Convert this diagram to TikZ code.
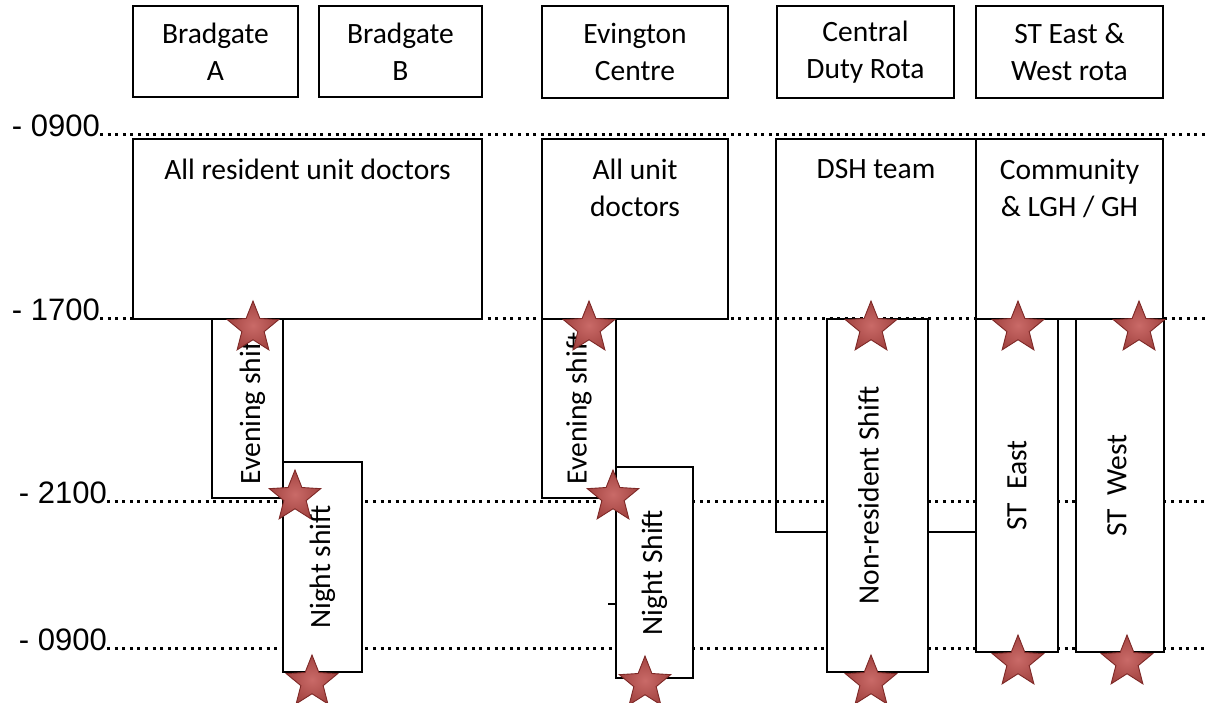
\documentclass[tikz,border=0pt]{standalone}
\usepackage{fontspec}
\setmainfont{Carlito}
\newfontfamily\arialfont{Liberation Sans}
\definecolor{starred}{RGB}{192, 80, 77}
\definecolor{stardark}{RGB}{125, 40, 38}
\usetikzlibrary{shapes.geometric}

\begin{document}
\begin{tikzpicture}[x=1pt, y=-1pt,
  rotabox/.style={draw, line width=1.5pt, fill=white, inner sep=0pt, align=center, font=\fontsize{29.5}{37}\selectfont},
  shiftbox/.style={draw, line width=1.5pt, fill=white, inner sep=0pt},
  toptext/.style={anchor=north, inner sep=0pt, align=center, font=\fontsize{29.5}{37}\selectfont},
  vtext/.style={rotate=90, inner sep=0pt, font=\fontsize{29.5}{34}\selectfont},
  timelbl/.style={anchor=base east, inner sep=0pt, font=\arialfont\fontsize{31}{34}\selectfont},
  dotline/.style={line width=3pt, dash pattern=on 3pt off 4.6pt},
  shiftstar/.style={star, star points=5, star point ratio=2.3, minimum size=54pt, inner sep=0pt, draw=stardark, line width=0.9pt, inner color=starred!85!white, outer color=starred!85!black}
]
  \useasboundingbox (0,0) rectangle (1207,703);

  \node[timelbl] (t0900a) at (100,137) {- 0900};
  \node[timelbl] (t1700) at (100,320) {- 1700};
  \node[timelbl] (t2100) at (107,503) {- 2100};
  \node[timelbl] (t0900b) at (107,650) {- 0900};
  \coordinate (e0900a) at (1207,135);
  \coordinate (e1700) at (1207,318);
  \coordinate (e2100) at (1207,501);
  \coordinate (e0900b) at (1207,648);
  \draw[dotline] ([yshift=2pt]t0900a.base east) -- (e0900a);
  \draw[dotline] ([yshift=2pt]t1700.base east) -- (e1700);
  \draw[dotline] ([yshift=2pt]t2100.base east) -- (e2100);
  \draw[dotline] ([yshift=2pt]t0900b.base east) -- (e0900b);

  \node[rotabox, minimum width=165pt, minimum height=91pt] (bradA) at (215.5,51.5) {Bradgate\\A};
  \node[rotabox, minimum width=163pt, minimum height=91pt] (bradB) at (400.5,51.5) {Bradgate\\B};
  \node[rotabox, minimum width=186pt, minimum height=92pt] (eving) at (635,52) {Evington\\Centre};
  \node[rotabox, minimum width=177pt, minimum height=92pt] (central) at (865.5,52) {Central\\Duty Rota};
  \node[rotabox, minimum width=187pt, minimum height=92pt] (stew) at (1069.5,52) {ST East \&\\West rota};

  \node[shiftbox, minimum width=349pt, minimum height=180pt] (resall) at (307.5,229) {};
  \node[shiftbox, minimum width=186pt, minimum height=180pt] (evall) at (635,229) {};
  \node[draw, line width=1.5pt, inner sep=0pt, minimum width=200pt, minimum height=393pt] (dsh) at (876,335.5) {};
  \node[shiftbox, minimum width=187pt, minimum height=180pt] (comm) at (1069.5,229) {};
  \node[toptext] (resalltxt) at (307.5,159) {All resident unit doctors};
  \node[toptext] (evalltxt) at (635,159) {All unit\\doctors};
  \node[toptext] (dshtxt) at (876,159) {DSH team};
  \node[toptext] (commtxt) at (1069.5,159) {Community\\\& LGH / GH};

  \node[shiftbox, minimum width=71pt, minimum height=179pt] (eveA) at (247.5,408.5) {};
  \node[shiftbox, minimum width=79pt, minimum height=210pt] (nightA) at (322.5,567) {};
  \node[shiftbox, minimum width=74pt, minimum height=179pt] (eveE) at (579,408.5) {};
  \node[shiftbox, minimum width=77pt, minimum height=211pt] (nightE) at (654.5,572.5) {};
  \node[shiftbox, minimum width=101pt, minimum height=353pt] (nonres) at (877.5,495.5) {};
  \node[shiftbox, minimum width=82pt, minimum height=333pt] (steast) at (1017,485.5) {};
  \node[shiftbox, minimum width=88pt, minimum height=333pt] (stwest) at (1120,485.5) {};
  \draw[line width=1.5pt] (608,604) -- (nightE.west |- 0,604);

  \node[vtext] at ([xshift=5pt]eveA.center) {Evening shift};
  \node[vtext] at (nightA.center) {Night shift};
  \node[vtext] at (eveE.center) {Evening shift};
  \node[vtext] at (nightE.center) {Night Shift};
  \node[vtext] at ([xshift=-9pt]nonres.center) {Non-resident Shift};
  \node[vtext] at (steast.center) {ST~ East};
  \node[vtext] at ([xshift=-3pt]stwest.center) {ST~ West};

  \node[shiftstar] (sA1) at (253,328) {};
  \node[shiftstar] (sA2) at (295,497) {};
  \node[shiftstar] (sA3) at (312,682) {};
  \node[shiftstar] (sE1) at (589,328) {};
  \node[shiftstar] (sE2) at (613,497) {};
  \node[shiftstar] (sE3) at (645,683) {};
  \node[shiftstar] (sN1) at (871,328) {};
  \node[shiftstar] (sN2) at (871,682) {};
  \node[shiftstar] (sSE1) at (1018,328) {};
  \node[shiftstar] (sSE2) at (1018,662) {};
  \node[shiftstar] (sSW1) at (1139,328) {};
  \node[shiftstar] (sSW2) at (1127,662) {};
\end{tikzpicture}
\end{document}
